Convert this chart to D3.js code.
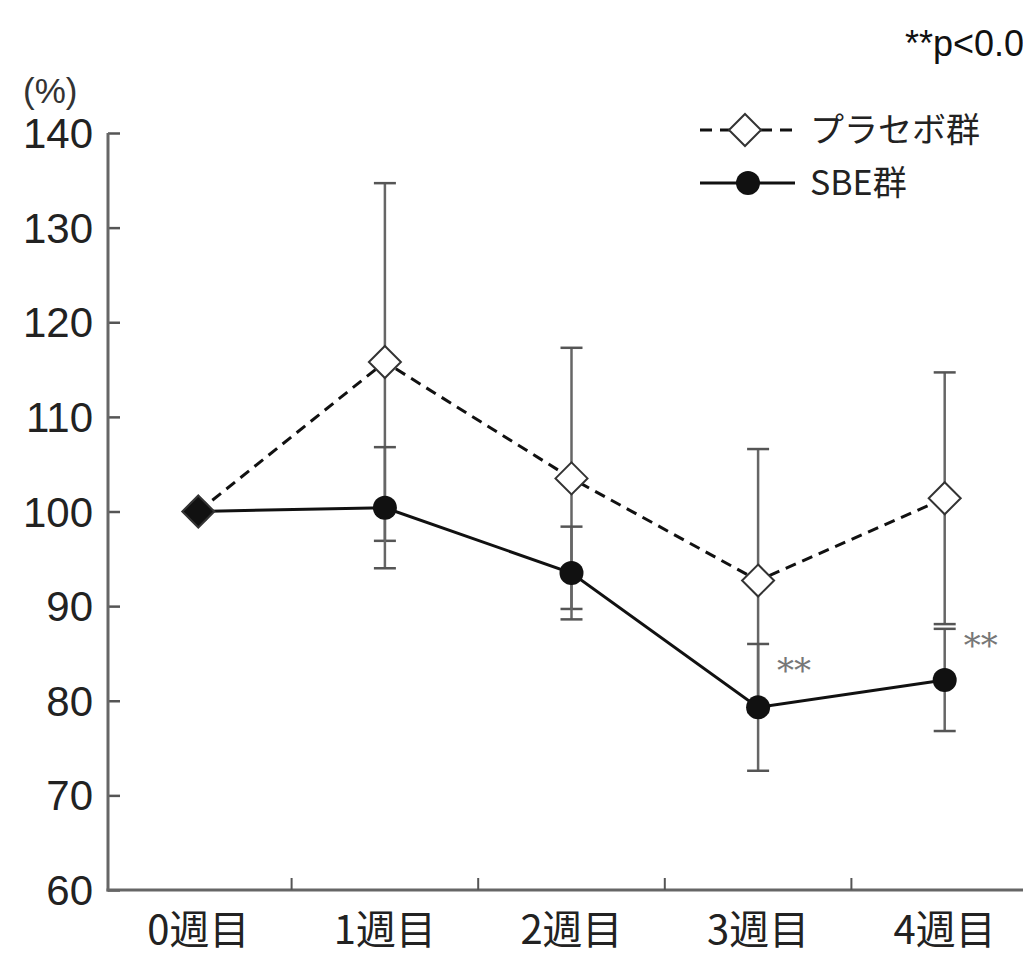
<!DOCTYPE html>
<html><head><meta charset="utf-8">
<script src="https://cdn.jsdelivr.net/npm/d3@7"></script>
<style>html,body{margin:0;padding:0;overflow:hidden;background:#fff}</style>
</head><body>
<svg id="c" width="1023" height="956"></svg>
<script>
const categories = ["0週目","1週目","2週目","3週目","4週目"];
const placeboMean = [100, 115.8, 103.5, 92.7, 101.4];
const placeboSD   = [0, 18.9, 13.8, 13.9, 13.3];
const sbeMean     = [100, 100.4, 93.5, 79.3, 82.2];
const sbeSD       = [0, 6.4, 4.9, 6.7, 5.4];
const yTicks = [60,70,80,90,100,110,120,130,140];
const sigMarks = [{i:3,label:"**"},{i:4,label:"**"}];
const seriesNames = ["プラセボ群","SBE群"];

const svg = d3.select("#c");
const x = d3.scaleBand().domain(categories).range([105, 1038]);
const y = d3.scaleLinear().domain([60,140]).range([890,133]);
const cx = d => x(d) + x.bandwidth()/2;
const numFont = "'Liberation Sans', Arial, sans-serif";
const jpFont = "'Noto Sans CJK JP', sans-serif";

// y axis
const yAxis = d3.axisRight(y).tickValues(yTicks).tickSize(12).tickFormat("");
const gy = svg.append("g").attr("transform","translate(108,0)").call(yAxis);
gy.select(".domain").remove();
gy.selectAll(".tick line").attr("stroke","#555").attr("stroke-width",2.5);
svg.append("line").attr("x1",108).attr("x2",108).attr("y1",y(140)).attr("y2",y(60)+1.5)
  .attr("stroke","#666").attr("stroke-width",3);
svg.append("g").selectAll("text").data(yTicks).join("text")
  .attr("x",93).attr("y",d=>y(d)).attr("dy","0.36em").attr("text-anchor","end")
  .attr("font-family",numFont).attr("font-size",42).attr("fill","#222").text(d=>d);
svg.append("text").attr("x",23).attr("y",103).attr("font-family",numFont)
  .attr("font-size",35).attr("fill","#333").text("(%)");

// x axis
svg.append("line").attr("x1",106.5).attr("x2",1023).attr("y1",y(60)).attr("y2",y(60))
  .attr("stroke","#666").attr("stroke-width",3);
const bounds = categories.slice(1).map(c => x(c));
svg.append("g").selectAll("line").data(bounds).join("line")
  .attr("x1",d=>d).attr("x2",d=>d).attr("y1",y(60)).attr("y2",y(60)-12)
  .attr("stroke","#555").attr("stroke-width",2);
svg.append("g").selectAll("text").data(categories).join("text")
  .attr("x",d=>cx(d)).attr("y",944).attr("text-anchor","middle")
  .attr("font-family",jpFont).attr("font-size",40).attr("fill","#222").text(d=>d);

// error bars
function errBars(mean, sd){
  const g = svg.append("g");
  const data = categories.map((c,i)=>({c, m:mean[i], s:sd[i]})).filter(d=>d.s>0);
  g.selectAll("line.v").data(data).join("line")
    .attr("x1",d=>cx(d.c)).attr("x2",d=>cx(d.c))
    .attr("y1",d=>y(d.m+d.s)).attr("y2",d=>y(d.m-d.s))
    .attr("stroke","#666").attr("stroke-width",2.5);
  [1,-1].forEach(k=>{
    g.selectAll("line.c"+k).data(data).join("line")
      .attr("x1",d=>cx(d.c)-11).attr("x2",d=>cx(d.c)+11)
      .attr("y1",d=>y(d.m+k*d.s)).attr("y2",d=>y(d.m+k*d.s))
      .attr("stroke","#555").attr("stroke-width",2.5);
  });
}
errBars(placeboMean, placeboSD);
errBars(sbeMean, sbeSD);

// lines
const line = d3.line().x((d,i)=>cx(categories[i])).y(d=>y(d));
svg.append("path").datum(sbeMean).attr("d",line).attr("fill","none")
  .attr("stroke","#111").attr("stroke-width",3);
svg.append("path").datum(placeboMean).attr("d",line).attr("fill","none")
  .attr("stroke","#111").attr("stroke-width",3).attr("stroke-dasharray","11,7");

// markers
svg.append("g").selectAll("circle").data(sbeMean).join("circle")
  .attr("cx",(d,i)=>cx(categories[i])).attr("cy",d=>y(d)).attr("r",12)
  .attr("fill","#111");
const diamond = s => `M0,${-s}L${s},0L0,${s}L${-s},0Z`;
svg.append("g").selectAll("path").data(placeboMean).join("path")
  .attr("transform",(d,i)=>`translate(${cx(categories[i])},${y(d)})`)
  .attr("d",diamond(16)).attr("fill",(d,i)=>i===0?"#111":"#fff")
  .attr("stroke","#333").attr("stroke-width",2);

// significance
svg.append("g").selectAll("text").data(sigMarks).join("text")
  .attr("x",d=>cx(categories[d.i])+36).attr("y",d=>y(sbeMean[d.i]+sbeSD[d.i])+ (d.i===3?38:28))
  .attr("text-anchor","middle").attr("font-family","'DejaVu Serif', serif")
  .attr("font-size",34).attr("fill","#777").text(d=>d.label);
svg.append("text").attr("x",905).attr("y",56).attr("font-family",numFont)
  .attr("font-size",36).attr("fill","#111").text("**p<0.01");

// legend
const lg = svg.append("g");
[[130,true],[183,false]].forEach(([ly,dash],k)=>{
  lg.append("line").attr("x1",700).attr("x2",795).attr("y1",ly).attr("y2",ly)
    .attr("stroke","#111").attr("stroke-width",3).attr("stroke-dasharray",dash?"12,8":null);
  if(dash) lg.append("path").attr("transform",`translate(745,${ly})`).attr("d",diamond(16))
    .attr("fill","#fff").attr("stroke","#333").attr("stroke-width",2);
  else lg.append("circle").attr("cx",748).attr("cy",ly).attr("r",12).attr("fill","#111");
  lg.append("text").attr("x",810).attr("y",ly).attr("dy","0.36em")
    .attr("font-family",jpFont).attr("font-size",34).attr("fill","#222").text(seriesNames[k]);
});
</script>
</body></html>
